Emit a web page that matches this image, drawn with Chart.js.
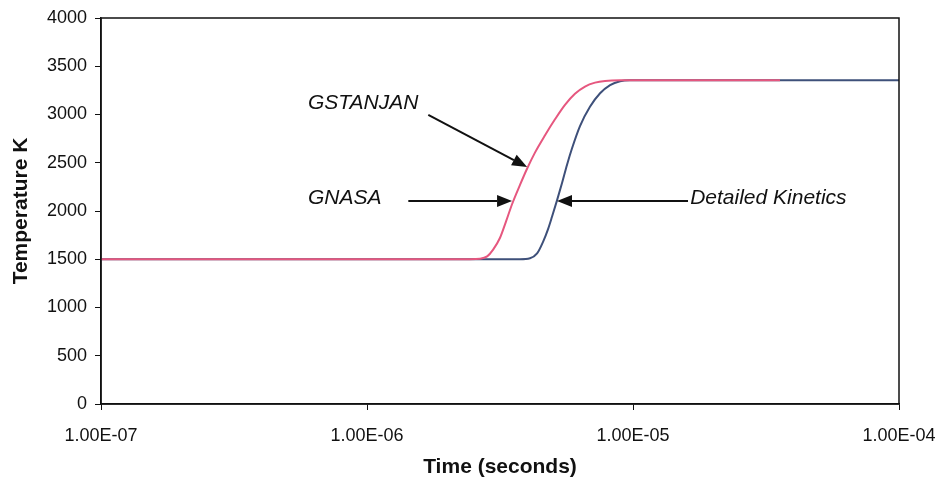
<!DOCTYPE html>
<html>
<head>
<meta charset="utf-8">
<script src="https://cdn.jsdelivr.net/npm/chart.js@4.4.0/dist/chart.umd.min.js"></script>
<style>
  html, body { margin: 0; padding: 0; background: #ffffff; }
  #wrap { width: 938px; height: 485px; position: relative; }
</style>
</head>
<body>
<div id="wrap"><canvas id="c" width="938" height="485"></canvas></div>
<script>
// ---- Data (time in seconds, temperature in K) ----
const gstanjanTime = [1e-7, 1e-6, 2.44e-6, 2.66e-6, 2.83e-6, 2.98e-6, 3.16e-6, 3.33e-6, 3.51e-6, 3.76e-6, 4.00e-6, 4.28e-6, 4.67e-6, 5.09e-6, 5.55e-6, 6.05e-6, 6.60e-6, 7.20e-6, 7.85e-6, 8.94e-6, 3.57e-5];
const gstanjanTemp = [1500, 1500, 1500, 1505, 1530, 1600, 1720, 1890, 2070, 2270, 2440, 2605, 2785, 2950, 3100, 3215, 3290, 3330, 3348, 3355, 3355];

const detailedTime = [1e-7, 1e-6, 3.0e-6, 3.76e-6, 4.10e-6, 4.36e-6, 4.59e-6, 4.79e-6, 4.96e-6, 5.18e-6, 5.41e-6, 5.65e-6, 5.90e-6, 6.32e-6, 6.89e-6, 7.52e-6, 8.20e-6, 8.94e-6, 9.74e-6, 2e-5, 1e-4];
const detailedTemp = [1500, 1500, 1500, 1500, 1510, 1560, 1680, 1810, 1940, 2110, 2290, 2480, 2650, 2880, 3080, 3220, 3305, 3345, 3355, 3355, 3355];

const xTickValues = [1e-7, 1e-6, 1e-5, 1e-4];
const xTickLabels = ['1.00E-07', '1.00E-06', '1.00E-05', '1.00E-04'];

const yMin = 0, yMax = 4000, yStep = 500;

// Annotations (placed in data coordinates)
const labelTexts = ['GSTANJAN', 'GNASA', 'Detailed Kinetics'];
const labelTime = [6.0e-7, 6.0e-7, 1.64e-5];
const labelTemp = [3119, 2135, 2135];
const arrowFromTime = [1.70e-6, 1.43e-6, 1.61e-5];
const arrowFromTemp = [2995, 2104, 2104];
const arrowToTime = [4.00e-6, 3.51e-6, 5.18e-6];
const arrowToTemp = [2456, 2104, 2104];

function toPoints(xs, ys) { return xs.map((x, i) => ({ x: x, y: ys[i] })); }

const framePlugin = {
  id: 'frame',
  afterDatasetsDraw(chart) {
    const { ctx, chartArea: a } = chart;
    ctx.save();
    ctx.strokeStyle = '#111';
    ctx.lineWidth = 1.5;
    ctx.strokeRect(a.left, a.top, a.right - a.left, a.bottom - a.top);
    ctx.restore();
  }
};

const annotationPlugin = {
  id: 'annot',
  afterDraw(chart) {
    const { ctx } = chart;
    const xs = chart.scales.x, ys = chart.scales.y;
    ctx.save();
    ctx.fillStyle = '#111';
    ctx.strokeStyle = '#111';
    ctx.font = 'italic 21px "Liberation Sans", Arial, sans-serif';
    ctx.textBaseline = 'middle';
    ctx.textAlign = 'left';
    labelTexts.forEach((t, i) => {
      ctx.fillText(t, xs.getPixelForValue(labelTime[i]), ys.getPixelForValue(labelTemp[i]));
    });
    for (let i = 0; i < arrowFromTime.length; i++) {
      const x0 = xs.getPixelForValue(arrowFromTime[i]);
      const y0 = ys.getPixelForValue(arrowFromTemp[i]);
      const x1 = xs.getPixelForValue(arrowToTime[i]);
      const y1 = ys.getPixelForValue(arrowToTemp[i]);
      const ang = Math.atan2(y1 - y0, x1 - x0);
      const hl = 15, hw = 6;
      const bx = x1 - hl * Math.cos(ang), by = y1 - hl * Math.sin(ang);
      ctx.lineWidth = 2;
      ctx.beginPath();
      ctx.moveTo(x0, y0);
      ctx.lineTo(bx, by);
      ctx.stroke();
      ctx.beginPath();
      ctx.moveTo(x1, y1);
      ctx.lineTo(bx + hw * Math.sin(ang), by - hw * Math.cos(ang));
      ctx.lineTo(bx - hw * Math.sin(ang), by + hw * Math.cos(ang));
      ctx.closePath();
      ctx.fill();
    }
    ctx.restore();
  }
};

new Chart(document.getElementById('c'), {
  type: 'scatter',
  data: {
    datasets: [
      {
        label: 'GSTANJAN / GNASA',
        data: toPoints(gstanjanTime, gstanjanTemp),
        showLine: true,
        borderColor: '#e6577f',
        backgroundColor: '#e6577f',
        borderWidth: 2,
        pointRadius: 0,
        cubicInterpolationMode: 'monotone'
      },
      {
        label: 'Detailed Kinetics',
        data: toPoints(detailedTime, detailedTemp),
        showLine: true,
        borderColor: '#3e507a',
        backgroundColor: '#3e507a',
        borderWidth: 2,
        pointRadius: 0,
        cubicInterpolationMode: 'monotone'
      }
    ]
  },
  options: {
    responsive: false,
    animation: false,
    devicePixelRatio: 1,
    layout: { padding: { top: 18, right: 39, left: 0, bottom: 0 } },
    plugins: { legend: { display: false }, tooltip: { enabled: false } },
    scales: {
      x: {
        type: 'logarithmic',
        min: 1e-7,
        max: 1e-4,
        afterBuildTicks(scale) { scale.ticks = xTickValues.map(v => ({ value: v })); },
        afterFit(scale) { scale.height = 81; scale.paddingLeft = 0; scale.paddingRight = 0; },
        ticks: {
          autoSkip: false,
          maxRotation: 0,
          color: '#111',
          padding: 15,
          font: { family: '"Liberation Sans", Arial, sans-serif', size: 18 },
          callback(value, index) { return xTickLabels[index]; }
        },
        grid: { drawOnChartArea: false, drawTicks: true, tickLength: 6, color: '#111' },
        border: { display: true, color: '#111', width: 1.5 },
        title: {
          display: true,
          text: 'Time (seconds)',
          color: '#111',
          font: { family: '"Liberation Sans", Arial, sans-serif', size: 21, weight: 'bold' },
          padding: { top: 0, bottom: 5 }
        }
      },
      y: {
        min: yMin,
        max: yMax,
        afterFit(scale) { scale.width = 101; scale.paddingTop = 0; scale.paddingBottom = 0; },
        ticks: {
          stepSize: yStep,
          color: '#111',
          padding: 8,
          font: { family: '"Liberation Sans", Arial, sans-serif', size: 18 },
          callback(value) { return String(value); }
        },
        grid: { drawOnChartArea: false, drawTicks: true, tickLength: 6, color: '#111' },
        border: { display: true, color: '#111', width: 1.5 },
        title: {
          display: true,
          text: 'Temperature K',
          color: '#111',
          font: { family: '"Liberation Sans", Arial, sans-serif', size: 21, weight: 'bold' },
          padding: { top: 9, bottom: 0 }
        }
      }
    }
  },
  plugins: [framePlugin, annotationPlugin]
});
</script>
</body>
</html>
